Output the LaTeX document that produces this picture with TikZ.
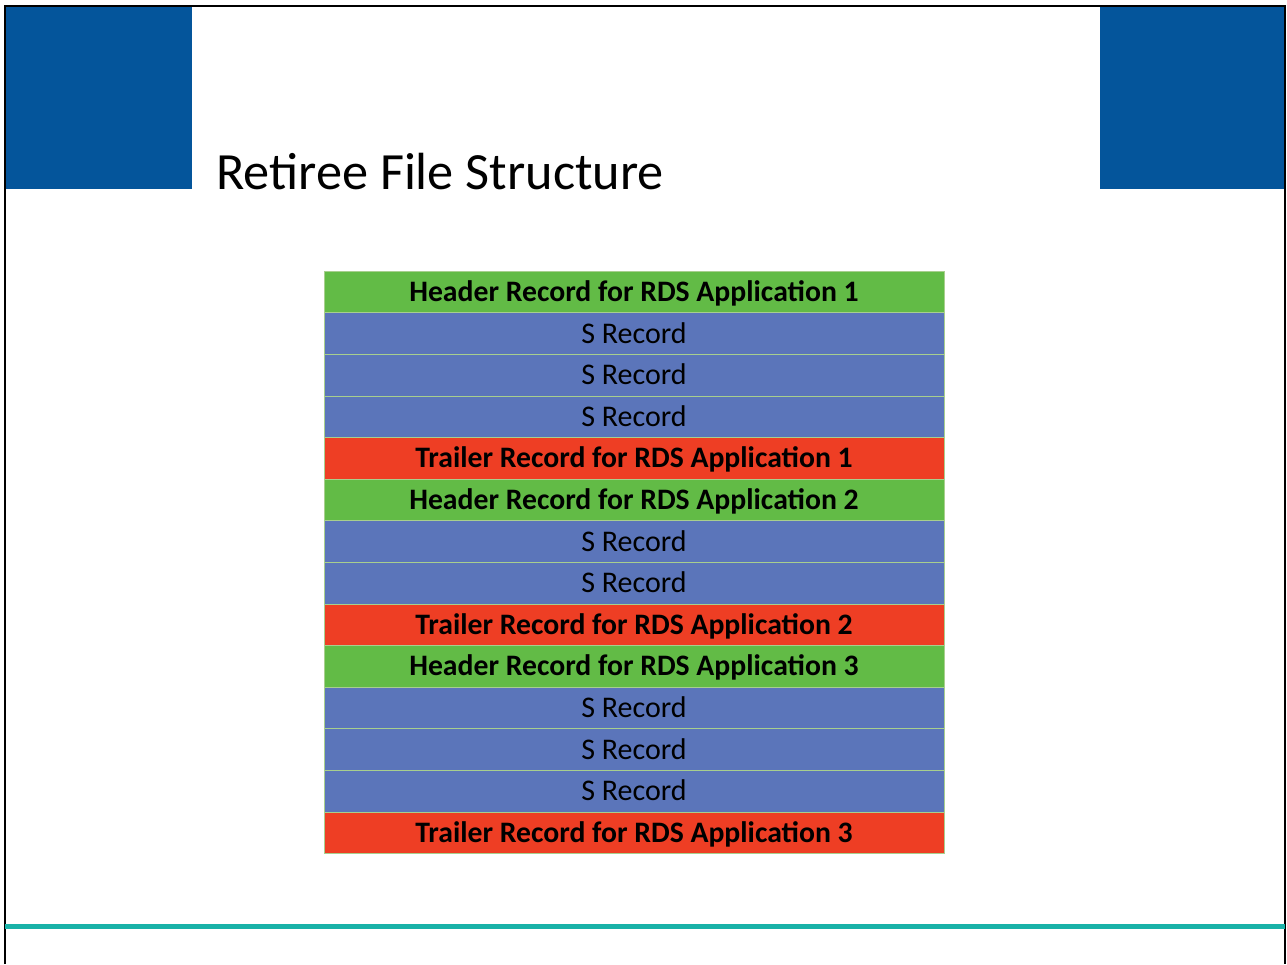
\documentclass[tikz,border=0pt]{standalone}
\usepackage{fontspec}
\setmainfont{Carlito}
\definecolor{hdrblue}{HTML}{04559B}
\definecolor{rowgreen}{HTML}{62BB46}
\definecolor{rowblue}{HTML}{5B75BA}
\definecolor{rowred}{HTML}{EE3E24}
\definecolor{rowline}{HTML}{A8CF8E}
\definecolor{tealline}{HTML}{19B2A8}
\tikzset{
  rowbox/.style={draw=rowline, line width=1pt, minimum width=620pt, minimum height=41.6pt, inner sep=0pt, text=black, text depth=2pt, font=\fontsize{30}{32}\selectfont},
  hdr/.style={rowbox, fill=rowgreen, font=\fontsize{29.7}{32}\selectfont\bfseries},
  srec/.style={rowbox, fill=rowblue},
  trl/.style={rowbox, fill=rowred, font=\fontsize{29.7}{32}\selectfont\bfseries},
}
\begin{document}
\begin{tikzpicture}[x=1pt,y=-1pt]
\useasboundingbox[fill=white] (0,0) rectangle (1287,964);
\fill[hdrblue] (5,6) rectangle (192,189);
\fill[hdrblue] (1100,6) rectangle (1285,189);
\draw[black, line width=1.5pt] (5,964) -- (5,6) -- (1285,6) -- (1285,964);
\fill[tealline] (5,923.5) rectangle (1285,929);
\node[anchor=base west, inner sep=0pt, font=\fontsize{52.3}{56}\selectfont] (title) at (216,189) {Retiree File Structure};
\node[hdr]  (r1)  at (634,292)   {Header Record for RDS Application 1};
\node[srec] (r2)  at (634,333.6) {S Record};
\node[srec] (r3)  at (634,375.2) {S Record};
\node[srec] (r4)  at (634,416.8) {S Record};
\node[trl]  (r5)  at (634,458.4) {Trailer Record for RDS Application 1};
\node[hdr]  (r6)  at (634,500)   {Header Record for RDS Application 2};
\node[srec] (r7)  at (634,541.6) {S Record};
\node[srec] (r8)  at (634,583.2) {S Record};
\node[trl]  (r9)  at (634,624.8) {Trailer Record for RDS Application 2};
\node[hdr]  (r10) at (634,666.4) {Header Record for RDS Application 3};
\node[srec] (r11) at (634,708)   {S Record};
\node[srec] (r12) at (634,749.6) {S Record};
\node[srec] (r13) at (634,791.2) {S Record};
\node[trl]  (r14) at (634,832.8) {Trailer Record for RDS Application 3};
\end{tikzpicture}
\end{document}
